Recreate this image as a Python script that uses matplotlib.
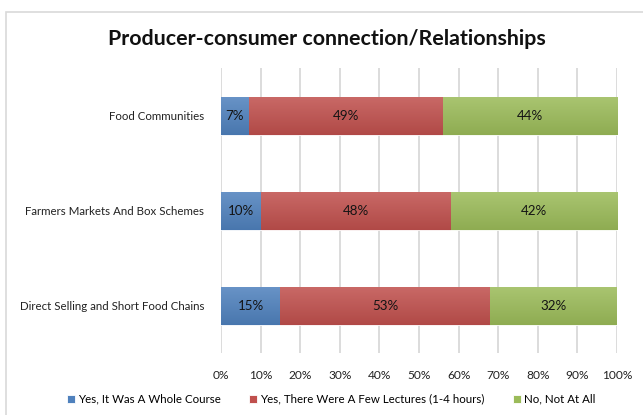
import numpy as np
import matplotlib
matplotlib.use("Agg")
import matplotlib.pyplot as plt
from matplotlib.colors import to_rgb
from matplotlib.patches import Rectangle

plt.rcParams['font.family'] = ['Lato', 'DejaVu Sans']

categories = ["Direct Selling and Short Food Chains",
              "Farmers Markets And Box Schemes",
              "Food Communities"]
series_names = ["Yes, It Was A Whole Course",
                "Yes, There Were A Few Lectures (1-4 hours)",
                "No, Not At All"]
whole_course = [15, 10, 7]
few_lectures = [53, 48, 49]
not_at_all = [32, 42, 44]
series_values = [whole_course, few_lectures, not_at_all]
series_colors = ["#4F81BD", "#C0504D", "#9BBB59"]
tick_labels = [f"{v}%" for v in range(0, 101, 10)]

fig = plt.figure(figsize=(6.43, 4.15), dpi=100)
ax = fig.add_axes([0.3437, 0.1494, 0.6159, 0.6867])

# chart frame
fig.patches.append(Rectangle((6 / 643, -0.1), 1.2, 1 - 12 / 415 + 0.1,
                             transform=fig.transFigure, fill=False,
                             edgecolor="#D9D9D9", linewidth=1.2))


def blend(c, other, t):
    c = np.array(to_rgb(c))
    o = np.array(to_rgb(other))
    return c * (1 - t) + o * t


y = np.arange(len(categories))
left = np.zeros(len(categories))
for name, vals, col in zip(series_names, series_values, series_colors):
    vals = np.array(vals, dtype=float)
    bars = ax.barh(y, vals, left=left, height=0.4, color=col, label=name,
                   edgecolor="white", linewidth=0.6, zorder=2)
    top = blend(col, "white", 0.14)
    bot = blend(col, "black", 0.08)
    grad = np.linspace(0, 1, 64)[:, None, None]
    img = bot * (1 - grad) + top * grad
    for b, v in zip(bars, vals):
        x0, y0, w, h = b.get_x(), b.get_y(), b.get_width(), b.get_height()
        im = ax.imshow(img, extent=(x0, x0 + w, y0, y0 + h), origin="lower",
                       aspect="auto", zorder=2.5, interpolation="bilinear")
        im.set_clip_path(b)
        ax.text(x0 + w / 2, y0 + h / 2, f"{int(v)}%", ha="center",
                va="center", fontsize=9.6, color="#141414", zorder=3)
    left += vals

ax.set_xlim(0, 100)
ax.set_ylim(-0.5, len(categories) - 0.5)
ax.set_xticks(np.arange(0, 101, 10))
ax.set_xticklabels(tick_labels)
ax.set_yticks(y)
ax.set_yticklabels(categories)
ax.tick_params(axis="both", length=0, colors="#222222")
ax.tick_params(axis="x", pad=12, labelsize=8.6)
ax.tick_params(axis="y", pad=12, labelsize=8.3)
ax.grid(axis="x", color="#D9D9D9", linewidth=1.3, zorder=0)
ax.set_axisbelow(True)
for s in ax.spines.values():
    s.set_visible(False)

fig.text(0.508, 0.905, "Producer-consumer connection/Relationships",
         ha="center", va="center", fontsize=15.4, fontweight="bold",
         color="#111111")

handles, labels = ax.get_legend_handles_labels()
fig.legend(handles, labels, loc="center", bbox_to_anchor=(0.515, 0.038),
           ncol=3, frameon=False, fontsize=8.3, handlelength=0.7,
           handleheight=0.7, handletextpad=0.3, columnspacing=2.4)

fig.savefig("out.png", dpi=100)
